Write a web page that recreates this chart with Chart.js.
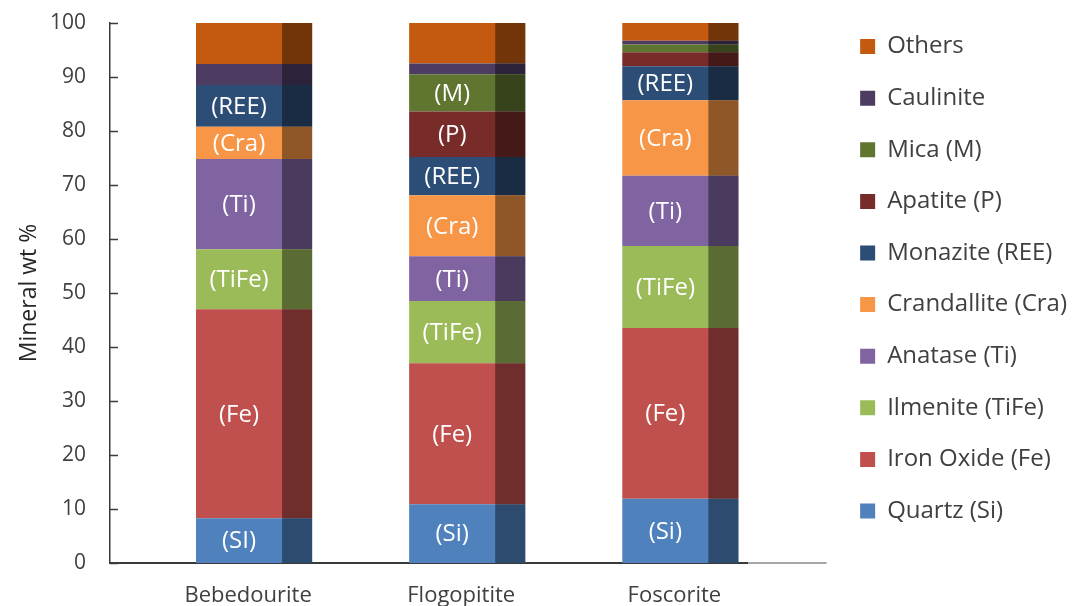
<!DOCTYPE html>
<html>
<head>
<meta charset="utf-8">
<title>Mineral wt %</title>
<script src="https://cdn.jsdelivr.net/npm/chart.js@4.4.1/dist/chart.umd.min.js"></script>
<style>
  html, body { margin: 0; padding: 0; background: #fff; }
  #wrap { width: 1091px; height: 606px; position: relative; }
</style>
</head>
<body>
<div id="wrap"><canvas id="chart"></canvas></div>
<script>
// categories on the x axis
const categories = ['Bebedourite', 'Flogopitite', 'Foscorite'];

// mineral wt % per sample, bottom of stack first
const quartz      = [8.3, 10.9, 11.9];
const ironOxide   = [38.7, 26.1, 31.6];
const ilmenite    = [11.1, 11.5, 15.2];
const anatase     = [16.7, 8.3, 13.0];
const crandallite = [6.0, 11.3, 14.0];
const monazite    = [7.7, 7.1, 6.3];
const apatite     = [0, 8.4, 2.6];
const mica        = [0, 6.9, 1.4];
const caulinite   = [3.9, 2.0, 0.7];
const others      = [7.6, 7.5, 3.3];

const seriesNames = ['Quartz (Si)', 'Iron Oxide (Fe)', 'Ilmenite (TiFe)', 'Anatase (Ti)',
  'Crandallite (Cra)', 'Monazite (REE)', 'Apatite (P)', 'Mica (M)', 'Caulinite', 'Others'];
const seriesValues = [quartz, ironOxide, ilmenite, anatase, crandallite, monazite, apatite, mica, caulinite, others];
const seriesColors = ['#4F81BD', '#C0504D', '#9BBB59', '#8064A2', '#F79646',
  '#2C4D75', '#772C2A', '#5F7530', '#4D3B62', '#C45A10'];

// text written inside each segment ('' = none)
const segmentLabels = [
  ['(SI)', '(Si)', '(Si)'],
  ['(Fe)', '(Fe)', '(Fe)'],
  ['(TiFe)', '(TiFe)', '(TiFe)'],
  ['(Ti)', '(Ti)', '(Ti)'],
  ['(Cra)', '(Cra)', '(Cra)'],
  ['(REE)', '(REE)', '(REE)'],
  ['', '(P)', ''],
  ['', '(M)', ''],
  ['', '', ''],
  ['', '', '']
];

const yTicks = [0, 10, 20, 30, 40, 50, 60, 70, 80, 90, 100];

const FONT = "'Open Sans', 'Liberation Sans', sans-serif";
const TEXT = '#404040';
Chart.defaults.font.family = FONT;
Chart.defaults.color = TEXT;

// darker right face + labels inside each segment, inner ticks on y axis
const barDecor = {
  id: 'barDecor',
  afterDatasetsDraw(chart) {
    const ctx = chart.ctx;
    ctx.save();
    chart.data.datasets.forEach((ds, di) => {
      const meta = chart.getDatasetMeta(di);
      meta.data.forEach((bar, i) => {
        const p = bar.getProps(['x', 'y', 'base', 'width'], true);
        const top = Math.min(p.y, p.base);
        const h = Math.abs(p.base - p.y);
        if (h < 0.5) return;
        const left = p.x - p.width / 2;
        const front = p.width * 0.741;
        ctx.fillStyle = 'rgba(0,0,0,0.42)';
        ctx.fillRect(left + front, top, p.width - front, h);
        const txt = segmentLabels[di][i];
        if (txt) {
          ctx.fillStyle = '#ffffff';
          ctx.font = '24px ' + FONT;
          ctx.textAlign = 'center';
          ctx.textBaseline = 'middle';
          ctx.fillText(txt, left + front / 2, top + h / 2 + 1);
        }
      });
    });
    ctx.restore();
  },
  afterDraw(chart) {
    const ctx = chart.ctx;
    const ys = chart.scales.y;
    const area = chart.chartArea;
    ctx.save();
    ctx.strokeStyle = '#3a3a3a';
    ctx.lineWidth = 1.5;
    ys.ticks.forEach(t => {
      const py = Math.round(ys.getPixelForValue(t.value)) + 0.5;
      ctx.beginPath();
      ctx.moveTo(area.left, py);
      ctx.lineTo(area.left + 8, py);
      ctx.stroke();
    });
    // lighter tail of the baseline past the last bar
    const lastMeta = chart.getDatasetMeta(0);
    const lastBar = lastMeta.data[lastMeta.data.length - 1];
    const endX = lastBar.x + lastBar.width / 2 + 10;
    ctx.strokeStyle = '#ffffff';
    ctx.lineWidth = 3;
    ctx.beginPath();
    ctx.moveTo(endX, area.bottom);
    ctx.lineTo(area.right + 2, area.bottom);
    ctx.stroke();
    ctx.strokeStyle = '#a6a6a6';
    ctx.lineWidth = 2;
    ctx.beginPath();
    ctx.moveTo(endX, area.bottom);
    ctx.lineTo(area.right - 6, area.bottom);
    ctx.stroke();
    ctx.restore();
  }
};

const datasets = seriesNames.map((name, si) => ({
  label: name,
  data: seriesValues[si].map((v, ci) => ({ x: ci, y: v })),
  backgroundColor: seriesColors[si],
  borderWidth: 0,
  barPercentage: 0.545,
  categoryPercentage: 1.0
}));

new Chart(document.getElementById('chart'), {
  type: 'bar',
  data: { datasets },
  plugins: [barDecor],
  options: {
    responsive: true,
    maintainAspectRatio: false,
    animation: false,
    layout: { padding: { top: 7, right: 14, bottom: 0, left: 0 } },
    scales: {
      x: {
        type: 'linear',
        stacked: true,
        offset: false,
        min: -0.676,
        max: 2.714,
        grid: { display: false, drawTicks: false, offset: false },
        border: { display: true, color: '#3a3a3a', width: 2 },
        afterBuildTicks: (s) => { s.ticks = categories.map((c, i) => ({ value: i })); },
        afterFit: (s) => { s.height = 43; },
        ticks: {
          autoSkip: false,
          maxRotation: 0,
          padding: 20,
          labelOffset: -6,
          font: { size: 22 },
          color: TEXT,
          callback: (v) => categories[v]
        }
      },
      y: {
        stacked: true,
        min: 0,
        max: 100,
        afterBuildTicks: (s) => { s.ticks = yTicks.map(v => ({ value: v })); },
        afterFit: (s) => { s.width = 110; s.paddingTop = 23; },
        grid: { display: false, drawTicks: false },
        border: { display: true, color: '#3a3a3a', width: 1.5 },
        ticks: { padding: 24, font: { size: 21 }, color: TEXT },
        title: {
          display: true,
          text: 'Mineral wt %',
          font: { size: 23 },
          color: '#262626',
          padding: { top: 16, bottom: 0 }
        }
      }
    },
    plugins: {
      legend: {
        position: 'right',
        align: 'start',
        reverse: true,
        labels: {
          boxWidth: 15,
          boxHeight: 15,
          padding: 27.6,
          color: TEXT,
          font: { size: 24 }
        }
      },
      tooltip: { enabled: false }
    }
  }
});
</script>
</body>
</html>
